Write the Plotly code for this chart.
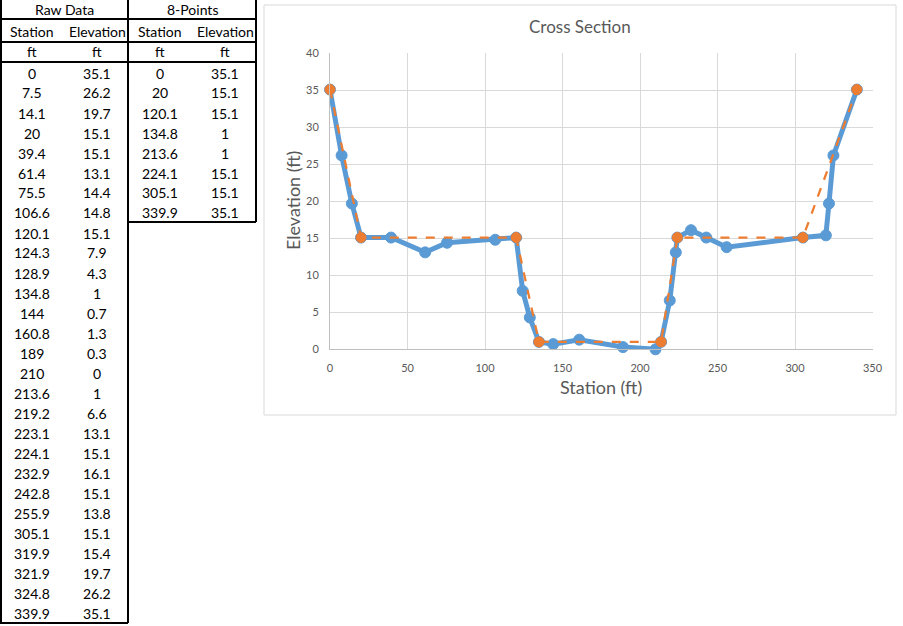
import plotly.graph_objects as go

# ---------------- data ----------------
raw_station = [0, 7.5, 14.1, 20, 39.4, 61.4, 75.5, 106.6, 120.1, 124.3, 128.9, 134.8, 144,
               160.8, 189, 210, 213.6, 219.2, 223.1, 224.1, 232.9, 242.8, 255.9, 305.1,
               319.9, 321.9, 324.8, 339.9]
raw_elev = [35.1, 26.2, 19.7, 15.1, 15.1, 13.1, 14.4, 14.8, 15.1, 7.9, 4.3, 1, 0.7,
            1.3, 0.3, 0, 1, 6.6, 13.1, 15.1, 16.1, 15.1, 13.8, 15.1,
            15.4, 19.7, 26.2, 35.1]
pt8_station = [0, 20, 120.1, 134.8, 213.6, 224.1, 305.1, 339.9]
pt8_elev = [35.1, 15.1, 15.1, 1, 1, 15.1, 15.1, 35.1]

x_ticks = [0, 50, 100, 150, 200, 250, 300, 350]
y_ticks = [0, 5, 10, 15, 20, 25, 30, 35, 40]

W, H = 903, 626
def px(x):
    return x / W
def py(y):
    return 1 - y / H

BLUE = "#5B9BD5"
ORANGE = "#ED7D31"
TXT = "#595959"
FONT = "Lato"

fig = go.Figure()
fig.add_trace(go.Scatter(
    x=raw_station, y=raw_elev, mode="lines+markers", name="Raw Data",
    line=dict(color=BLUE, width=5),
    marker=dict(color=BLUE, size=11, line=dict(color=BLUE, width=1)),
    cliponaxis=False, showlegend=False))
fig.add_trace(go.Scatter(
    x=pt8_station, y=pt8_elev, mode="lines+markers", name="8-Points",
    line=dict(color=ORANGE, width=2.25, dash="dash"),
    marker=dict(color=ORANGE, size=10, line=dict(color=ORANGE, width=1)),
    cliponaxis=False, showlegend=False))

shapes = []
annotations = []

# chart box
shapes.append(dict(type="rect", xref="paper", yref="paper",
                   x0=px(264), x1=px(896), y0=py(415), y1=py(5),
                   line=dict(color="#D9D9D9", width=1), layer="below"))

# ---------------- table ----------------
def hline(y, x0, x1):
    shapes.append(dict(type="line", xref="paper", yref="paper",
                       x0=px(x0), x1=px(x1), y0=py(y), y1=py(y),
                       line=dict(color="black", width=2)))
def vline(x, y0, y1):
    shapes.append(dict(type="line", xref="paper", yref="paper",
                       x0=px(x), x1=px(x), y0=py(y0), y1=py(y1),
                       line=dict(color="black", width=2)))

row_h = 20
data_top = 62
raw_bottom = data_top + row_h * len(raw_station) + 1
pt_bottom = data_top + row_h * len(pt8_station)

hline(19, 0, 256)
hline(42, 0, 256)
hline(62, 0, 256)
hline(raw_bottom, 0, 128)
hline(pt_bottom, 128, 256)
vline(1, 0, raw_bottom)
vline(128, 0, raw_bottom)
vline(256, 0, pt_bottom)

def txt(x, y, s):
    annotations.append(dict(xref="paper", yref="paper", x=px(x), y=py(y),
                            text=s, showarrow=False, xanchor="center", yanchor="middle",
                            font=dict(family=FONT, size=14, color="black")))

txt(64, 10, "Raw Data")
txt(192, 10, "8-Points")
col_x = [32, 97, 160, 225]
for cx, s in zip(col_x, ["Station", "Elevation", "Station", "Elevation"]):
    txt(cx, 31, s)
for cx in col_x:
    txt(cx, 52, "ft")

def fmt(v):
    return f"{v:g}"

for i, (s, e) in enumerate(zip(raw_station, raw_elev)):
    yc = data_top + row_h * i + 11
    txt(col_x[0], yc, fmt(s))
    txt(col_x[1], yc, fmt(e))
for i, (s, e) in enumerate(zip(pt8_station, pt8_elev)):
    yc = data_top + row_h * i + 11
    txt(col_x[2], yc, fmt(s))
    txt(col_x[3], yc, fmt(e))

# chart titles
annotations.append(dict(xref="paper", yref="paper", x=px(580), y=py(27), text="Cross Section",
                        showarrow=False, xanchor="center", yanchor="middle",
                        font=dict(family=FONT, size=17, color=TXT)))
annotations.append(dict(xref="paper", yref="paper", x=px(601), y=py(387), text="Station (ft)",
                        showarrow=False, xanchor="center", yanchor="middle",
                        font=dict(family=FONT, size=18, color=TXT)))
annotations.append(dict(xref="paper", yref="paper", x=px(293), y=py(201), text="Elevation (ft)",
                        showarrow=False, xanchor="center", yanchor="middle", textangle=-90,
                        font=dict(family=FONT, size=18, color=TXT)))

fig.update_layout(
    width=W, height=H, margin=dict(l=0, r=0, t=0, b=0, autoexpand=False),
    paper_bgcolor="white", plot_bgcolor="white",
    shapes=shapes, annotations=annotations,
    xaxis=dict(domain=[px(330), px(872.5)], range=[0, 350], tickvals=x_ticks,
               showgrid=True, gridcolor="#D9D9D9", gridwidth=1,
               showline=True, linecolor="#BFBFBF", linewidth=1, automargin=False,
               zeroline=False, ticks="", ticklabelstandoff=8,
               tickfont=dict(family=FONT, size=11, color=TXT), fixedrange=True),
    yaxis=dict(domain=[py(349.3), py(53.3)], range=[0, 40], tickvals=y_ticks,
               showgrid=True, gridcolor="#D9D9D9", gridwidth=1,
               showline=True, linecolor="#BFBFBF", linewidth=1, automargin=False,
               zeroline=False, ticks="", ticklabelstandoff=8,
               tickfont=dict(family=FONT, size=11, color=TXT), fixedrange=True),
    showlegend=False,
)

fig.write_html("out.html")
